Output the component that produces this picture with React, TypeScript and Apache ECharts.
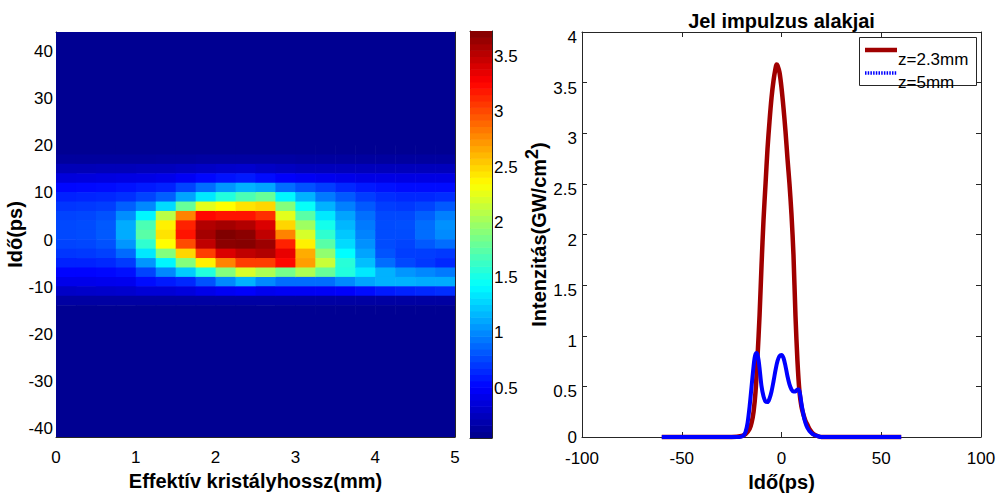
import React, { useEffect, useRef } from 'react';
import * as echarts from 'echarts';

// ---------- data ----------
// Heatmap: intensity (GW/cm^2) per column of crystal length z (mm), rows of time t (ps)
const zCenters = [0.125, 0.375, 0.625, 0.875, 1.125, 1.375, 1.625, 1.875, 2.125, 2.375, 2.625, 2.875, 3.125, 3.375, 3.625, 3.875, 4.125, 4.375, 4.625, 4.875];
const tCenters = [18, 16, 14, 12, 10, 8, 6, 4, 2, 0, -2, -4, -6, -8, -10, -12, -14, -16];
const intensityByColumn = [
  [0.04, 0.08, 0.18, 0.32, 0.48, 0.58, 0.65, 0.70, 0.72, 0.72, 0.70, 0.65, 0.58, 0.47, 0.38, 0.24, 0.10, 0.04],
  [0.04, 0.08, 0.18, 0.33, 0.49, 0.59, 0.66, 0.71, 0.73, 0.73, 0.71, 0.66, 0.58, 0.47, 0.38, 0.25, 0.10, 0.04],
  [0.04, 0.08, 0.19, 0.34, 0.50, 0.60, 0.68, 0.75, 0.78, 0.78, 0.75, 0.69, 0.60, 0.48, 0.39, 0.26, 0.10, 0.04],
  [0.04, 0.08, 0.19, 0.35, 0.52, 0.63, 0.80, 0.97, 1.08, 1.08, 1.00, 0.84, 0.67, 0.51, 0.40, 0.27, 0.10, 0.04],
  [0.04, 0.08, 0.20, 0.36, 0.55, 0.70, 0.95, 1.35, 1.65, 1.70, 1.55, 1.30, 1.00, 0.70, 0.50, 0.30, 0.10, 0.04],
  [0.04, 0.09, 0.20, 0.38, 0.58, 0.80, 1.25, 2.05, 2.35, 2.40, 2.30, 1.85, 1.35, 0.95, 0.55, 0.30, 0.10, 0.04],
  [0.04, 0.09, 0.22, 0.42, 0.70, 1.05, 1.75, 2.75, 3.10, 3.15, 2.95, 2.45, 1.85, 1.20, 0.60, 0.33, 0.10, 0.04],
  [0.04, 0.10, 0.24, 0.48, 0.85, 1.30, 2.20, 3.20, 3.50, 3.55, 3.45, 3.00, 2.35, 1.50, 0.75, 0.38, 0.10, 0.04],
  [0.04, 0.10, 0.26, 0.52, 1.00, 1.50, 2.30, 3.15, 3.55, 3.68, 3.64, 3.35, 2.75, 1.85, 0.95, 0.42, 0.10, 0.04],
  [0.04, 0.10, 0.27, 0.55, 1.10, 1.65, 2.40, 3.15, 3.50, 3.64, 3.66, 3.45, 3.00, 2.15, 1.10, 0.45, 0.10, 0.04],
  [0.04, 0.10, 0.24, 0.50, 1.05, 1.75, 2.45, 3.05, 3.35, 3.45, 3.58, 3.50, 3.00, 2.00, 0.95, 0.40, 0.10, 0.04],
  [0.04, 0.10, 0.22, 0.45, 0.85, 1.35, 1.85, 2.20, 2.45, 2.75, 3.10, 3.30, 3.20, 1.80, 0.85, 0.42, 0.10, 0.04],
  [0.04, 0.09, 0.20, 0.42, 0.75, 1.10, 1.40, 1.70, 1.95, 2.15, 2.35, 2.60, 2.65, 2.00, 0.85, 0.42, 0.10, 0.04],
  [0.04, 0.09, 0.20, 0.40, 0.68, 0.90, 1.10, 1.30, 1.45, 1.55, 1.70, 1.90, 2.10, 1.75, 0.85, 0.43, 0.10, 0.04],
  [0.04, 0.09, 0.20, 0.38, 0.60, 0.78, 0.92, 1.05, 1.12, 1.18, 1.25, 1.38, 1.52, 1.50, 0.95, 0.45, 0.10, 0.04],
  [0.04, 0.09, 0.20, 0.36, 0.55, 0.68, 0.78, 0.86, 0.90, 0.93, 0.98, 1.05, 1.15, 1.30, 1.05, 0.50, 0.10, 0.04],
  [0.04, 0.09, 0.20, 0.36, 0.52, 0.62, 0.68, 0.72, 0.73, 0.73, 0.73, 0.76, 0.85, 1.10, 1.10, 0.55, 0.10, 0.04],
  [0.04, 0.09, 0.20, 0.35, 0.50, 0.60, 0.66, 0.72, 0.74, 0.73, 0.70, 0.68, 0.72, 1.00, 1.10, 0.58, 0.10, 0.04],
  [0.04, 0.09, 0.20, 0.35, 0.50, 0.60, 0.70, 0.80, 0.85, 0.85, 0.78, 0.68, 0.66, 0.95, 1.08, 0.60, 0.10, 0.04],
  [0.04, 0.09, 0.20, 0.35, 0.50, 0.62, 0.78, 0.92, 0.98, 0.96, 0.85, 0.66, 0.60, 0.90, 1.08, 0.62, 0.10, 0.04],
];
const backgroundLevel = 0.04;
const colorbarMax = 3.68;
const colorbarLevels = 64;

// Right panel: pulse shapes
const redT = [-60, -40, -25, -20, -18, -16, -15, -14, -13, -12, -11, -10, -9, -8, -7, -6, -5, -4, -3, -2.5, -2, -1, 0, 1, 2, 3, 4, 5, 6, 7, 8, 9, 10, 11, 12, 13, 14, 16, 18, 20, 25, 40, 60];
const redI = [0, 0, 0, 0.01, 0.03, 0.08, 0.14, 0.25, 0.45, 0.8, 1.2, 1.7, 2.15, 2.5, 2.85, 3.12, 3.35, 3.52, 3.64, 3.68, 3.67, 3.6, 3.45, 3.25, 3.02, 2.75, 2.5, 2.2, 1.8, 1.2, 0.75, 0.45, 0.3, 0.22, 0.16, 0.12, 0.08, 0.03, 0.01, 0, 0, 0, 0];
const blueT = [-60, -40, -25, -21, -20, -19, -18, -17, -16, -15, -14, -13.5, -13, -12.5, -12, -11.5, -11, -10, -9, -8, -7, -6, -5, -4, -3, -2, -1, 0, 1, 2, 3, 4, 5, 6, 7, 8, 8.7, 9.5, 10, 11, 12, 13, 14, 15, 16, 18, 20, 25, 40, 60];
const blueI = [0, 0, 0, 0, 0.005, 0.015, 0.05, 0.14, 0.3, 0.5, 0.7, 0.78, 0.82, 0.83, 0.81, 0.76, 0.68, 0.5, 0.4, 0.35, 0.345, 0.38, 0.45, 0.55, 0.66, 0.75, 0.8, 0.81, 0.78, 0.7, 0.6, 0.52, 0.47, 0.45, 0.45, 0.47, 0.47, 0.4, 0.33, 0.22, 0.14, 0.09, 0.06, 0.04, 0.025, 0.01, 0, 0, 0, 0];

const legendNames = ['z=2.3mm', 'z=5mm'];

// ---------- styles ----------
const FONT = '"Liberation Sans", Arial, Helvetica, sans-serif';
const AX = '#262626';
const RED = '#A00000';
const BLUE = '#0000FF';
const JET = ['#000088', '#0000FF', '#0080FF', '#00FFFF', '#80FF80', '#FFFF00', '#FF8000', '#FF0000', '#800000'];

export default function App() {
  const ref = useRef<HTMLDivElement>(null);

  useEffect(() => {
    if (!ref.current) return;
    const chart = echarts.init(ref.current, null, { renderer: 'svg' });

    const dz = zCenters[1] - zCenters[0];
    const dt = tCenters[0] - tCenters[1];
    const heatCells: number[][] = [];
    heatCells.push([0, 5, tCenters[0] + dt / 2, 43, backgroundLevel]);
    heatCells.push([0, 5, -43, tCenters[tCenters.length - 1] - dt / 2, backgroundLevel]);
    zCenters.forEach((z, i) => {
      tCenters.forEach((t, j) => {
        heatCells.push([z - dz / 2, z + dz / 2, t - dt / 2, t + dt / 2, intensityByColumn[i][j]]);
      });
    });
    const cbarCells: number[][] = [];
    for (let k = 0; k < colorbarLevels; k++) {
      const lo = (k * colorbarMax) / colorbarLevels;
      const hi = ((k + 1) * colorbarMax) / colorbarLevels;
      cbarCells.push([0, 1, lo, hi, (lo + hi) / 2]);
    }

    const cellItem = (_p: any, api: any) => {
      const a = api.coord([api.value(0), api.value(3)]);
      const b = api.coord([api.value(1), api.value(2)]);
      return {
        type: 'rect',
        shape: {
          x: Math.min(a[0], b[0]),
          y: Math.min(a[1], b[1]),
          width: Math.abs(b[0] - a[0]) + 0.6,
          height: Math.abs(b[1] - a[1]) + 0.6,
        },
        style: { fill: api.visual('color') },
      };
    };

    const axisLine = { show: true, onZero: false, lineStyle: { color: AX, width: 1 } };
    const tick = (len = 5) => ({ show: true, inside: true, length: len, lineStyle: { color: AX, width: 1 } });
    const label = { color: '#000', fontSize: 17, fontFamily: FONT };
    // MATLAB draws vertical-axis tick labels a few pixels below their ticks
    const yLabel = { ...label, verticalAlign: 'top', lineHeight: 11 };
    const nameStyle = { color: '#000', fontSize: 20, fontWeight: 'bold', fontFamily: FONT };
    const noSplit = { show: false };
    const hidden = { show: false };

    const option: any = {
      animation: false,
      backgroundColor: '#ffffff',
      grid: [
        { left: 56, top: 32, width: 399, height: 405, outerBoundsMode: 'none' },
        { left: 470, top: 31, width: 22, height: 407, outerBoundsMode: 'none' },
        { left: 582, top: 32, width: 399, height: 405, outerBoundsMode: 'none' },
      ],
      xAxis: [
        {
          gridIndex: 0, type: 'value', min: 0, max: 5, interval: 1,
          axisLine, axisTick: tick(), splitLine: noSplit,
          axisLabel: { ...label, margin: 12 },
          name: 'Effektív kristályhossz(mm)', nameLocation: 'middle', nameGap: 32, nameTextStyle: nameStyle,
        },
        {
          gridIndex: 0, type: 'value', position: 'top', min: 0, max: 5, interval: 1,
          axisLine, axisTick: tick(), splitLine: noSplit, axisLabel: hidden,
        },
        { gridIndex: 1, type: 'value', min: 0, max: 1, axisLine, axisTick: hidden, axisLabel: hidden, splitLine: noSplit },
        { gridIndex: 1, type: 'value', position: 'top', min: 0, max: 1, axisLine, axisTick: hidden, axisLabel: hidden, splitLine: noSplit },
        {
          gridIndex: 2, type: 'value', min: -100, max: 100, interval: 50,
          axisLine, axisTick: tick(), splitLine: noSplit,
          axisLabel: { ...label, margin: 13 },
          name: 'Idő(ps)', nameLocation: 'middle', nameGap: 32, nameTextStyle: nameStyle,
        },
        {
          gridIndex: 2, type: 'value', position: 'top', min: -100, max: 100, interval: 50,
          axisLine, axisTick: tick(), splitLine: noSplit, axisLabel: hidden,
        },
      ],
      yAxis: [
        {
          gridIndex: 0, type: 'value', min: -43, max: 43, splitNumber: 8,
          axisLine, axisTick: tick(), splitLine: noSplit,
          axisLabel: {
            ...yLabel, margin: 3,
            formatter: (v: number) => (Math.abs(v % 10) < 1e-6 ? String(v) : ''),
          },
          name: 'Idő(ps)', nameLocation: 'middle', nameGap: 22, nameTextStyle: nameStyle,
        },
        {
          gridIndex: 0, type: 'value', position: 'right', min: -43, max: 43, splitNumber: 8,
          axisLine, axisTick: tick(), splitLine: noSplit, axisLabel: hidden,
        },
        {
          gridIndex: 1, type: 'value', min: 0, max: colorbarMax, splitNumber: 7,
          axisLine, axisTick: tick(4), splitLine: noSplit, axisLabel: hidden,
        },
        {
          gridIndex: 1, type: 'value', position: 'right', min: 0, max: colorbarMax, splitNumber: 7,
          axisLine, axisTick: tick(4), splitLine: noSplit,
          axisLabel: {
            ...yLabel, margin: 2,
            formatter: (v: number) => (v > 0 && Math.abs(v * 2 - Math.round(v * 2)) < 1e-6 ? String(v) : ''),
          },
        },
        {
          gridIndex: 2, type: 'value', min: 0, max: 4, interval: 0.5,
          axisLine, axisTick: tick(), splitLine: noSplit,
          axisLabel: {
            ...yLabel, margin: 5,
            formatter: (v: number) => (v === 0 ? '{z|0}' : String(v)),
            rich: { z: { ...label, lineHeight: 1 } },
          },
          name: '{a|Intenzitás(GW/cm}{s|2}{a|)}', nameLocation: 'middle', nameGap: 12,
          nameTextStyle: {
            ...nameStyle,
            rich: {
              a: { fontSize: 20, fontWeight: 'bold', fontFamily: FONT, color: '#000', lineHeight: 32 },
              s: { fontSize: 18, fontWeight: 'bold', fontFamily: FONT, color: '#000', verticalAlign: 'top' },
            },
          },
        },
        {
          gridIndex: 2, type: 'value', position: 'right', min: 0, max: 4, interval: 0.5,
          axisLine, axisTick: tick(), splitLine: noSplit, axisLabel: hidden,
        },
      ],
      visualMap: {
        type: 'continuous', show: false, min: 0, max: colorbarMax, dimension: 4,
        seriesIndex: [0, 1], inRange: { color: JET },
      },
      series: [
        {
          type: 'custom', name: 'intensity', xAxisIndex: 0, yAxisIndex: 0,
          renderItem: cellItem, clip: true,
          dimensions: ['z0', 'z1', 't0', 't1', 'v'], encode: { x: [0, 1], y: [2, 3] },
          data: heatCells, silent: true,
        },
        {
          type: 'custom', name: 'colorbar', xAxisIndex: 2, yAxisIndex: 3,
          renderItem: cellItem, clip: true,
          dimensions: ['x0', 'x1', 'lo', 'hi', 'v'], encode: { x: [0, 1], y: [2, 3] },
          data: cbarCells, silent: true,
        },
        {
          type: 'line', name: legendNames[0], xAxisIndex: 4, yAxisIndex: 4,
          data: redT.map((t, i) => [t, redI[i]]), showSymbol: false, symbol: 'none',
          smooth: 0.3, clip: false, lineStyle: { color: RED, width: 4.5 }, itemStyle: { color: RED },
        },
        {
          type: 'line', name: legendNames[1], xAxisIndex: 4, yAxisIndex: 4,
          data: blueT.map((t, i) => [t, blueI[i]]), showSymbol: false, symbol: 'none',
          smooth: 0.3, clip: false, lineStyle: { color: BLUE, width: 4 }, itemStyle: { color: BLUE },
        },
      ],
      graphic: [
        {
          type: 'text', x: 781.5, y: 21, silent: true,
          style: { text: 'Jel impulzus alakjai', fill: '#000', fontSize: 20, fontWeight: 'bold', fontFamily: FONT, align: 'center', verticalAlign: 'middle' },
        },
        {
          type: 'rect', shape: { x: 859.5, y: 37.5, width: 117, height: 48 }, silent: true,
          style: { fill: '#fff', stroke: AX, lineWidth: 1 },
        },
        {
          type: 'line', shape: { x1: 865, y1: 50, x2: 897, y2: 50 }, silent: true,
          style: { stroke: RED, lineWidth: 4.5 },
        },
        {
          type: 'text', x: 898, y: 59, silent: true,
          style: { text: legendNames[0], fill: '#000', fontSize: 17, fontFamily: FONT, align: 'left', verticalAlign: 'middle' },
        },
        {
          type: 'line', shape: { x1: 865, y1: 73, x2: 897, y2: 73 }, silent: true,
          style: { stroke: BLUE, lineWidth: 3.5, lineDash: [1.5, 1.2] },
        },
        {
          type: 'text', x: 898, y: 82, silent: true,
          style: { text: legendNames[1], fill: '#000', fontSize: 17, fontFamily: FONT, align: 'left', verticalAlign: 'middle' },
        },
      ],
    };

    chart.setOption(option);
    return () => chart.dispose();
  }, []);

  return (
    <div
      ref={ref}
      style={{ position: 'fixed', left: 0, top: 0, width: 998, height: 493, background: '#fff' }}
    />
  );
}
